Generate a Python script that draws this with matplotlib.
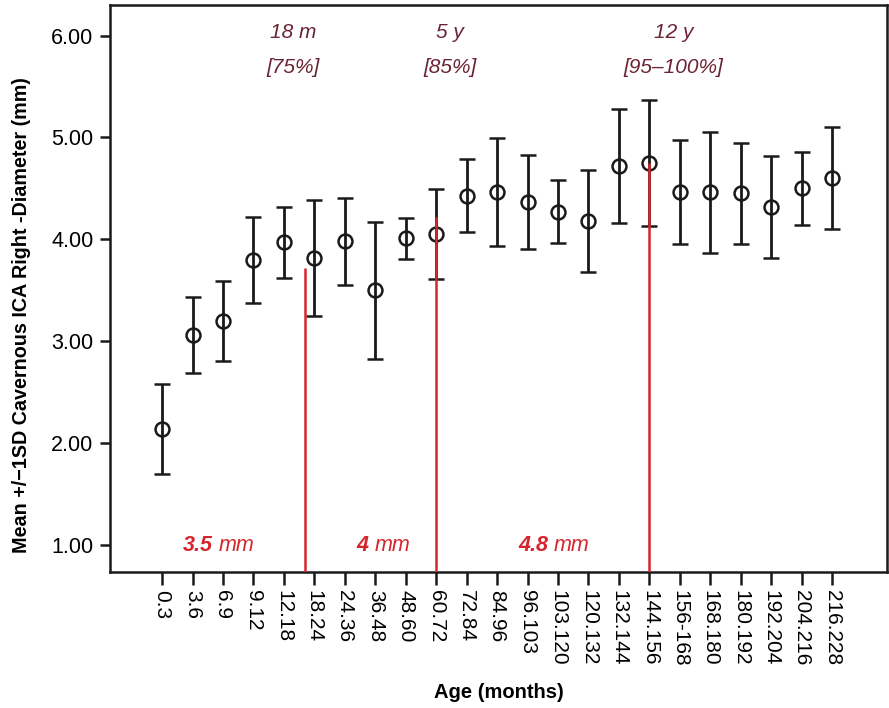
import numpy as np
import matplotlib
matplotlib.use("Agg")
import matplotlib.pyplot as plt

plt.rcParams['font.family'] = ['Liberation Sans', 'DejaVu Sans']

# age groups (months)
age_groups = ["0.3", "3.6", "6.9", "9.12", "12.18", "18.24", "24.36", "36.48",
              "48.60", "60.72", "72.84", "84.96", "96.103", "103.120", "120.132",
              "132.144", "144.156", "156-168", "168.180", "180.192", "192.204",
              "204.216", "216.228"]
# mean diameter (mm)
mean_mm = [2.14, 3.06, 3.20, 3.80, 3.97, 3.82, 3.98, 3.50, 4.01, 4.05, 4.43,
           4.46, 4.37, 4.27, 4.18, 4.72, 4.75, 4.46, 4.46, 4.45, 4.32, 4.50, 4.60]
# 1 SD (mm)
sd_mm = [0.44, 0.37, 0.39, 0.42, 0.35, 0.57, 0.43, 0.67, 0.20, 0.44, 0.36,
         0.53, 0.46, 0.31, 0.50, 0.56, 0.62, 0.51, 0.59, 0.50, 0.50, 0.36, 0.50]

# cut-off markers: position (category index), height of red line
cutoff_pos = [4.7, 9, 16]
cutoff_top = [3.72, 4.22, 4.75]
cutoff_age = ["18 m", "5 y", "12 y"]
cutoff_pct = ["[75%]", "[85%]", "[95\u2013100%]"]
cutoff_text_x = [4.3, 9.45, 16.8]

# mean diameter per segment
seg_value = ["3.5", "4", "4.8"]
seg_x = [1.75, 6.85, 12.75]

red = "#d7252e"
maroon = "#6b2335"
ink = "#1a1a1a"

x = np.arange(len(age_groups))

fig = plt.figure(figsize=(8.89, 7.08), dpi=100)
ax = fig.add_axes([0.1237, 0.192, 0.8740, 0.801])

ax.errorbar(x, mean_mm, yerr=sd_mm, fmt='o', mfc='none', mec=ink, mew=1.8,
            ms=10, ecolor=ink, elinewidth=2.0, capsize=6, capthick=2.0, zorder=3)

for p, top in zip(cutoff_pos, cutoff_top):
    ax.plot([p, p], [0.735, top], color=red, lw=1.8, zorder=4, solid_capstyle='butt')

for tx, age, pct in zip(cutoff_text_x, cutoff_age, cutoff_pct):
    ax.text(tx, 6.03, age, color=maroon, style='italic', fontsize=15,
            ha='center', va='center')
    ax.text(tx, 5.69, pct, color=maroon, style='italic', fontsize=15,
            ha='center', va='center')

for sx, v in zip(seg_x, seg_value):
    ax.annotate(v, (sx, 1.0), xytext=(-1.5, 0), textcoords='offset points',
                color=red, fontsize=15.5, fontweight='bold', style='italic',
                ha='right', va='center')
    ax.annotate("mm", (sx, 1.0), xytext=(2.5, 0), textcoords='offset points',
                color=red, fontsize=15.5, style='italic', ha='left', va='center')

ax.set_xlim(-1.71, 23.8)
ax.set_ylim(0.735, 6.30)
ax.set_xticks(x)
ax.set_xticklabels(age_groups, rotation=-90, fontsize=15)
ax.set_yticks([1, 2, 3, 4, 5, 6])
ax.set_yticklabels(["%.2f" % v for v in [1, 2, 3, 4, 5, 6]], fontsize=15.5)

for s in ax.spines.values():
    s.set_linewidth(1.8)
    s.set_color(ink)
ax.tick_params(axis='x', length=9, width=1.8, color=ink, pad=4)
ax.tick_params(axis='y', length=7, width=1.8, color=ink, pad=5)

ax.set_xlabel("Age (months)", fontsize=14.5, fontweight='bold', labelpad=12)
ax.set_ylabel("Mean +/\u22121SD Cavernous ICA Right -Diameter (mm)", fontsize=14.2,
              fontweight='bold')
ax.yaxis.set_label_coords(-0.102, 0.453)

fig.savefig("out.png", dpi=100)
